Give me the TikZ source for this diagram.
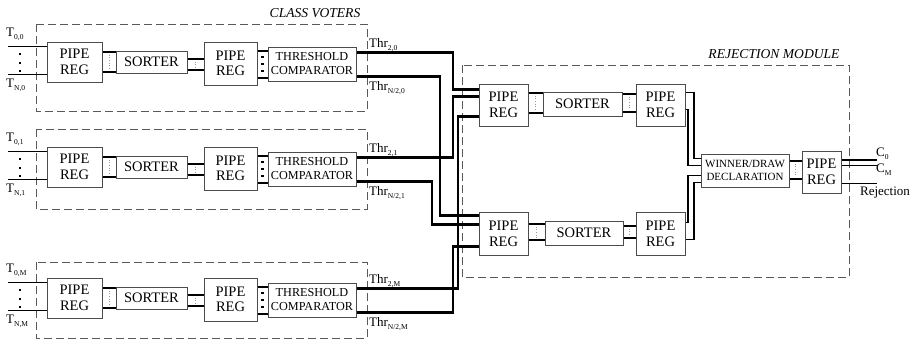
\documentclass[tikz,border=0pt]{standalone}
\usepackage{fontspec}
\setmainfont{Liberation Serif}
\usetikzlibrary{calc}
\newcommand\lbl[2]{#1\raisebox{-0.55ex}{\fontsize{7.5}{8}\selectfont #2}}
\newcommand\busconn[4]{%
  \coordinate (q1) at ($(#2.west)+(0,#3)$);
  \coordinate (q2) at ($(#2.west)+(0,#4)$);
  \coordinate (qm) at ($(#1.east)!0.5!(#2.west)$);
  \draw[bus] (q1 -| #1.east) -- (q1);
  \draw[bus] (q2 -| #1.east) -- (q2);
  \draw[sep] (qm |- q1) -- (qm |- q2);
}
\begin{document}
\begin{tikzpicture}[x=1pt,y=-1pt,
  blk/.style={draw=black!70, line width=1pt, fill=white, inner sep=0pt, align=center,
              font={\fontsize{14.5}{15.5}\selectfont}},
  cmpbox/.style={blk, font={\fontsize{12.2}{14}\selectfont}},
  winbox/.style={blk, font={\fontsize{11}{13.5}\selectfont}},
  grp/.style={draw=black!65, dash pattern=on 8pt off 4pt, line width=0.9pt},
  wire/.style={line width=2.6pt},
  wiretwo/.style={line width=1.7pt},
  bus/.style={line width=1.6pt},
  sep/.style={draw=black!40, dotted, line width=0.7pt, shorten <=2.5pt, shorten >=2.5pt},
  txt/.style={inner sep=0pt, font={\fontsize{13}{14}\selectfont}},
  ttl/.style={inner sep=0pt, font={\fontsize{13.6}{15}\selectfont\itshape}},
]
\useasboundingbox[fill=white] (0,0) rectangle (920,340);

% ---------------- class voters ----------------
\coordinate (iL) at (8,0);
\foreach \r/\b/\gt/\gb in {0/42/24/111, 1/147/129/209, M/278/262/338}{
  \draw[grp] (36,\gt) rectangle (367,\gb);
  \node[blk, minimum width=55pt, minimum height=40pt] (p1\r) at (74.5,\b+20) {PIPE\\REG};
  \node[blk, minimum width=71pt, minimum height=22pt] (s\r) at (151.5,\b+20) {SORTER};
  \node[blk, minimum width=53pt, minimum height=43pt] (p2\r) at (230.5,\b+21.5) {PIPE\\REG};
  \node[cmpbox, minimum width=88pt, minimum height=34pt] (cmp\r) at (312,\b+22) {THRESHOLD\\COMPARATOR};
  \busconn{p1\r}{s\r}{-10}{10}
  \busconn{s\r}{p2\r}{-4.5}{6.5}
  % pipe -> comparator bus with thick dots
  \coordinate (k1) at ($(cmp\r.west)+(0,-13)$);
  \coordinate (k2) at ($(cmp\r.west)+(0,14)$);
  \draw[bus] (k1 -| p2\r.east) -- (k1);
  \draw[bus] (k2 -| p2\r.east) -- (k2);
  \foreach \dy in {15,22,29}{\fill (261.2,\b+\dy-1.3) rectangle ++(2.6,2.6);}
  % inputs
  \coordinate (ia\r) at ($(p1\r.north west)+(0,5)$);
  \coordinate (ib\r) at ($(p1\r.north west)+(0,33)$);
  \draw[wiretwo] (ia\r -| iL) -- (ia\r);
  \draw[wiretwo] (ib\r -| iL) -- (ib\r);
  \foreach \dy in {12,21,29}{\fill (18.7,\b+\dy-1.3) rectangle ++(2.6,2.6);}
  \node[txt, anchor=west] (T0\r) at (6,\b-8) {\lbl{T}{0,\r}};
  \node[txt, anchor=west] (TN\r) at (6,\b+43) {\lbl{T}{N,\r}};
  \node[txt, anchor=west] (h2\r) at (369,\b+3) {\lbl{Thr}{2,\r}};
  \node[txt, anchor=west] (hN\r) at (369,\b+46) {\lbl{Thr}{N/2,\r}};
  \coordinate (t2\r) at ($(cmp\r.north east)+(0,6)$);
  \coordinate (tN\r) at ($(cmp\r.south east)+(0,-5)$);
}
\node[ttl] (cv) at (315,13) {CLASS VOTERS};

% ---------------- rejection module ----------------
\draw[grp] (462,65) rectangle (849,277);
\node[ttl] (rm) at (774,54) {REJECTION MODULE};
\node[blk, minimum width=49pt, minimum height=42pt] (pA) at (503.5,105) {PIPE\\REG};
\node[blk, minimum width=79pt, minimum height=24pt] (sA) at (582.5,104) {SORTER};
\node[blk, minimum width=49pt, minimum height=42pt] (pB) at (660.5,105) {PIPE\\REG};
\node[blk, minimum width=49pt, minimum height=43pt] (pC) at (503.5,234) {PIPE\\REG};
\node[blk, minimum width=78pt, minimum height=24pt] (sC) at (584,233) {SORTER};
\node[blk, minimum width=49pt, minimum height=43pt] (pD) at (660.5,234) {PIPE\\REG};
\node[winbox, minimum width=88pt, minimum height=33pt] (win) at (745,170.5) {WINNER/DRAW\\DECLARATION};
\node[blk, minimum width=39pt, minimum height=42pt] (pE) at (821.5,172) {PIPE\\REG};

\busconn{pA}{sA}{-11}{9}
\busconn{sA}{pB}{-11}{7}
\busconn{pC}{sC}{-9}{7}
\busconn{sC}{pD}{-8}{4}
\busconn{win}{pE}{-11}{7}

% threshold wires
\coordinate (vA) at (453,0);
\coordinate (vB) at (440,0);
\coordinate (vC) at (432,0);
\coordinate (vD) at (458,0);
\coordinate (a1) at ($(pA.north west)+(0,6)$);
\coordinate (a2) at ($(pA.north west)+(0,13)$);
\coordinate (a3) at ($(pA.north west)+(0,33)$);
\coordinate (c1) at ($(pC.north west)+(0,3.5)$);
\coordinate (c2) at ($(pC.north west)+(0,12.5)$);
\coordinate (c3) at ($(pC.north west)+(0,34.5)$);
\draw[wire] (t20) -- (t20 -| vA) |- (a1);
\draw[wire] (tN0) -- (tN0 -| vB) |- (c1);
\draw[wire] (t21) -- (t21 -| vA) |- (a2);
\draw[wire] (tN1) -- (tN1 -| vC) |- (c2);
\draw[wire] (t2M) -- (t2M -| vD) |- (a3);
\draw[wire] (tNM) -- (tNM -| vA) |- (c3);

% pipe regs -> winner/draw
\coordinate (xo) at (694,0);
\coordinate (xi) at (688,0);
\coordinate (w1) at ($(win.north west)+(0,5)$);
\coordinate (w2) at ($(win.north west)+(0,12)$);
\coordinate (w3) at ($(win.north west)+(0,22)$);
\coordinate (w4) at ($(win.north west)+(0,29)$);
\coordinate (b1) at ($(pB.north east)+(0,9)$);
\coordinate (b2) at ($(pB.north east)+(0,26)$);
\coordinate (d1) at ($(pD.north east)+(0,10.5)$);
\coordinate (d2) at ($(pD.north east)+(0,27.5)$);
\draw[wiretwo] (b1) -- (b1 -| xo) |- (w1);
\draw[wiretwo] (b2) -- (b2 -| xi) |- (w2);
\draw[wiretwo] (d1) -- (d1 -| xi) |- (w3);
\draw[wiretwo] (d2) -- (d2 -| xo) |- (w4);

% outputs
\coordinate (oe) at (877,0);
\coordinate (o1) at ($(pE.north east)+(0,9.5)$);
\coordinate (o2) at ($(pE.north east)+(0,15)$);
\coordinate (o3) at ($(pE.north east)+(0,33)$);
\draw[wiretwo] (o1) -- (o1 -| oe);
\draw[wiretwo] (o2) -- (o2 -| oe);
\draw[wiretwo] (o3) -- (o3 -| oe);
\node[txt, anchor=west] (C0) at (876,154) {\lbl{C}{0}};
\node[txt, anchor=west] (CM) at (876,170) {\lbl{C}{M}};
\node[txt] (rej) at (885,193) {Rejection};
\end{tikzpicture}
\end{document}
